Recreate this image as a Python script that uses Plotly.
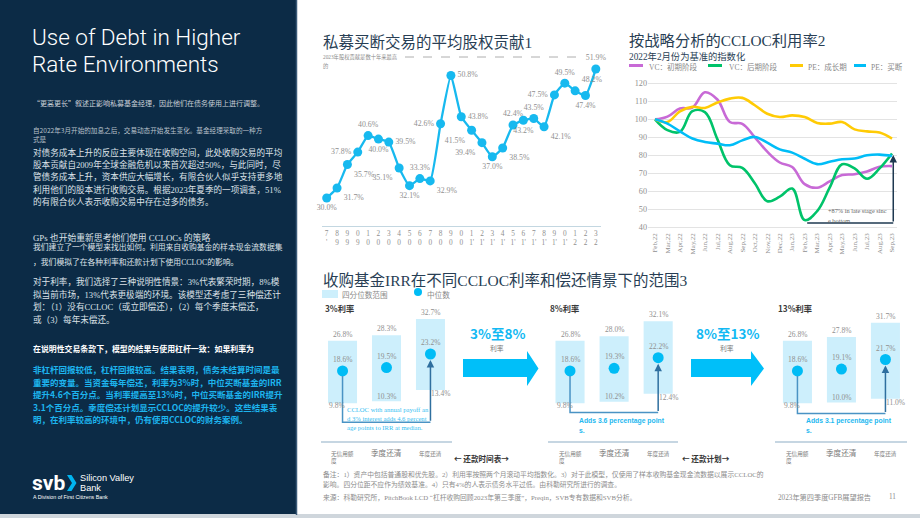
import plotly.graph_objects as go

W, H = 920, 518
def X(px): return px / W
def Y(py): return 1 - py / H

# ---------------- data ----------------
equity_years = list(range(1997, 2024))
equity_ticks = ["7<br>'", "8<br>9", "9<br>9", "0<br>9", "1<br>0", "2<br>0", "3<br>0", "4<br>0", "5<br>0",
                "6<br>0", "7<br>0", "8<br>0", "9<br>0", "0<br>0", "1<br>1'", "2<br>1'", "3<br>1'", "4<br>1'",
                "5<br>1'", "6<br>1'", "7<br>1'", "8<br>1'", "9<br>1'", "0<br>1'", "1<br>2", "2<br>2", "3<br>2"]
equity_pct = [30.0, 31.7, 35.7, 37.8, 40.6, 40.0, 39.5, 35.1, 32.1, 33.3, 32.9, 42.6, 50.8, 43.8,
              41.5, 39.4, 37.0, 38.5, 42.4, 43.2, 43.5, 42.1, 47.5, 49.5, 48.2, 47.4, 51.9]
equity_label_pos = ["bottom center", "bottom right", "bottom right", "middle left", "top center",
                    "bottom center", "middle right", "bottom left", "bottom center", "top center",
                    "bottom right", "middle left", "middle right", "middle right", "bottom left",
                    "bottom left", "bottom center", "bottom right", "top center", "bottom center",
                    "top center", "bottom right", "middle left", "top center", "top right",
                    "bottom center", "top center"]

ccloc_months = ["Feb,22", "Mar,22", "Apr,22", "May,22", "Jun,22", "Jul,22", "Aug,22", "Sep,22",
                "Oct,22", "Nov,22", "Dec,22", "Jan,23", "Feb,23", "Mar,23", "Apr,23", "May,23",
                "Jun,23", "Jul,23", "Aug,23", "Sep,23"]
vc_early = [100, 101.5, 106, 106.5, 115, 111, 98.5, 97.5, 90, 82, 76, 73.5, 64, 62, 65.5, 69, 69.5, 71, 73.6, 74]
vc_late = [100, 94, 93, 104.5, 104, 89, 74.5, 73, 64.5, 54.5, 57, 61.5, 44, 49, 62, 75, 72.7, 67, 72.7, 81]
pe_growth = [100, 98.5, 104.4, 106.9, 106.3, 109.3, 111.5, 111.9, 107.8, 103.1, 101.3, 102.2, 101.3,
             98, 97.6, 98.5, 94.4, 93.3, 92.6, 89.3]
pe_buyout = [100, 97.6, 93.3, 89.3, 87.4, 86.5, 85.6, 88.3, 90.2, 87, 83.3, 81.5, 78.1, 75.1, 76.4,
             77.8, 78.2, 80, 80.4, 79.6]
ccloc_names = ["VC：初期阶段", "VC：后期阶段", "PE：成长期", "PE：买断"]

irr_rates = ["3%利率", "8%利率", "13%利率"]
irr_schedules = ["无信用额<br>度", "季度还清", "年度还清"]
irr_q1 = [[9.8, 10.3, 13.4], [9.8, 10.2, 12.4], [9.8, 10.0, 11.0]]
irr_q3 = [[26.8, 28.3, 32.7], [26.8, 28.0, 32.1], [26.8, 27.8, 31.7]]
irr_med = [[18.6, 19.5, 23.2], [18.6, 19.3, 22.2], [18.6, 19.1, 21.7]]

# ---------------- style ----------------
NAVY = "#0c2b46"
CYAN = "#17b9ef"
TITLE = "#283e54"
GRAY = "#8a8a8a"
SANS = "Liberation Sans, Noto Sans CJK SC, sans-serif"
SERIF = "Liberation Serif, Noto Sans CJK SC, serif"
CJK = "Noto Sans CJK SC, sans-serif"
LINE_COLORS = ["#c86ad6", "#00c36a", "#ffcb05", "#00bdf7"]

fig = go.Figure()
ann = []
shapes = []

def T(x, y, s, size, color, family=SANS, weight="normal", xa="left", ya="middle", align="left"):
    ann.append(dict(x=X(x), y=Y(y), xref="paper", yref="paper", text=s, showarrow=False,
                    xanchor=xa, yanchor=ya, align=align,
                    font=dict(size=size, color=color, family=family, weight=weight)))

def rect(x0, y0, x1, y1, color, layer="below"):
    shapes.append(dict(type="rect", xref="paper", yref="paper", x0=X(x0), x1=X(x1), y0=Y(y1), y1=Y(y0),
                       fillcolor=color, line=dict(width=0), layer=layer))

def poly(pts, color, layer="above"):
    path = "M " + " L ".join(f"{X(a):.5f},{Y(b):.5f}" for a, b in pts) + " Z"
    shapes.append(dict(type="path", xref="paper", yref="paper", path=path, fillcolor=color,
                       line=dict(width=0), layer=layer))

def hline(x0, x1, y, color, width, dash="solid"):
    shapes.append(dict(type="line", xref="paper", yref="paper", x0=X(x0), x1=X(x1), y0=Y(y), y1=Y(y),
                       line=dict(color=color, width=width, dash=dash)))

# ---------------- left panel ----------------
rect(0, 0, 296, 515, NAVY)
shapes.append(dict(type="line", xref="paper", yref="paper", x0=X(296.5), x1=X(296.5), y0=Y(515), y1=1,
                   line=dict(color="#3b5a78", width=1.5)))
rect(0, 514, 920, 518, "#cfd6dc")

T(30, 37, "Use of Debt in Higher", 22.5, "white", "Roboto, Liberation Sans", 300)
T(30, 64, "Rate Environments", 22.5, "white", "Roboto, Liberation Sans", 300)
T(31, 103, "“更高更长”叙述正影响私募基金经理，因此他们在债务使用上进行调整。", 7, "#c8cfd7", CJK)
T(31, 130, "自2022年3月开始的加息之后，交易动态开始发生变化。基金经理采取的一种方", 6.6, "#b9c1ca", CJK)
T(31, 139, "式是", 6.6, "#b9c1ca", CJK)
para1 = ["对债务成本上升的反应主要体现在收购空间，此处收购交易的平均",
         "股本贡献自2009年全球金融危机以来首次超过50%，与此同时，尽",
         "管债务成本上升，资本供应大幅增长，有限合伙人似乎支持更多地",
         "利用他们的股本进行收购交易。根据2023年夏季的一项调查，51%",
         "的有限合伙人表示收购交易中存在过多的债务。"]
for i, s in enumerate(para1):
    T(31, 152 + i * 12.4, s, 8.6, "#dde2e8", SERIF)
T(31, 237, "GPs 也开始重新思考他们使用 CCLOCs 的策略", 8.8, "#dde2e8", SERIF)
T(31, 247, "我们建立了一个模型来找出如何。利用来自收购基金的样本现金流数据集", 7.8, "#dde2e8", SERIF)
T(31, 261.5, "，我们模拟了在各种利率和还款计划下使用CCLOC的影响。", 7.8, "#dde2e8", SERIF)
para2 = ["对于利率，我们选择了三种说明性情景：3%代表繁荣时期，8%模",
         "拟当前市场，13%代表更极端的环境。该模型还考虑了三种偿还计",
         "划：（1）没有CCLOC（或立即偿还），（2）每个季度末偿还，",
         "或（3）每年末偿还。"]
for i, s in enumerate(para2):
    T(31, 281.7 + i * 12.45, s, 8.6, "#dde2e8", SERIF)
T(31, 348, "在说明性交易条款下，模型的结果与使用杠杆一致：如果利率为", 7.9, "white", CJK, "bold")
para3 = ["非杠杆回报较低，杠杆回报较高。结果表明，债务未结算时间是最",
         "重要的变量。当资金每年偿还，利率为3%时，中位买断基金的IRR",
         "提升4.6个百分点。当利率提高至13%时，中位买断基金的IRR提升",
         "3.1个百分点。季度偿还计划显示CCLOC的提升较少。这些结果表",
         "明，在利率较高的环境中，仍有使用CCLOC的财务案例。"]
for i, s in enumerate(para3):
    T(31, 369.3 + i * 12.5, s, 8.5, "#1db4ee", CJK, "bold")

# SVB logo
T(30, 483, "svb", 21, "white", "Roboto, Liberation Sans", "bold")
poly([(67, 475), (71.5, 475), (76.5, 483), (71.5, 491), (67, 491), (72, 483)], "#00b4ef")
T(78, 478, "Silicon Valley", 9.2, "white", SANS)
T(78, 488, "Bank", 9.2, "white", SANS)
T(31, 497, "A Division of First Citizens Bank", 5.3, "white", SANS)

# ---------------- chart 1: equity contribution ----------------
T(321, 42, "私募买断交易的平均股权贡献1", 15.5, TITLE, SERIF)
T(321, 57, "2023年股权贡献是数十年来最高", 5.3, GRAY, SERIF)
T(321, 66, "的", 5.3, GRAY, SERIF)
hline(405, 580, 57, "#9a9a9a", 0.8, "dash")

fig.add_trace(go.Scatter(
    x=list(range(len(equity_years))), y=equity_pct, mode="lines+markers+text",
    text=[f"{v:.1f}%" for v in equity_pct], textposition=equity_label_pos,
    textfont=dict(size=7.8, color="#8f8f8f", family=SERIF),
    line=dict(color=CYAN, width=2.3, shape="spline", smoothing=0.4),
    marker=dict(size=9, color=CYAN), cliponaxis=False, xaxis="x", yaxis="y", showlegend=False))

# ---------------- chart 2: CCLOC utilization ----------------
T(627, 40.5, "按战略分析的CCLOC利用率2", 15.3, TITLE, SERIF)
T(627, 56, "2022年2月份为基准的指数化", 9.3, TITLE, SERIF)
leg_x = [(629, 643, 647), (708, 722, 727), (790, 803, 806), (854, 866, 869)]
for (a, b, c), name, col in zip(leg_x, ccloc_names, LINE_COLORS):
    hline(a, b, 65.5, col, 3)
    T(c, 66.5, name, 7.5, "#8a8a8a", SERIF)

for series, col in zip([vc_early, vc_late, pe_growth, pe_buyout], LINE_COLORS):
    fig.add_trace(go.Scatter(x=list(range(len(ccloc_months))), y=series, mode="lines",
                             line=dict(color=col, width=2.6, shape="spline", smoothing=1.1),
                             xaxis="x2", yaxis="y2", showlegend=False))

shapes.append(dict(type="line", xref="x2", yref="y2", x0=12.2, x1=19.1, y0=42.4, y1=42.4,
                   line=dict(color="#1e3850", width=1.5)))
ann.append(dict(x=19.1, y=80.2, xref="x2", yref="y2", ax=19.1, ay=42.4, axref="x2", ayref="y2",
                text="", showarrow=True, arrowhead=2, arrowsize=1, arrowwidth=1.5, arrowcolor="#1e3850"))
T(826, 211, "+87% in late stage sinc", 6.3, "#666666", SERIF)
T(826, 220, "e bottom", 6.3, "#666666", SERIF)

# ---------------- chart 3: IRR ranges ----------------
T(321, 280, "收购基金IRR在不同CCLOC利率和偿还情景下的范围3", 15.5, TITLE, SERIF)
rect(322, 290, 338, 298, "#cdeffc")
T(340, 294, "四分位数范围", 7.6, "#8a8a8a", CJK)
fig.add_trace(go.Scatter(x=[0.5], y=[0.5], mode="markers", marker=dict(size=8, color="#00bcf5"),
                         xaxis="x6", yaxis="y6", showlegend=False, hoverinfo="skip"))
T(425, 294, "中位数", 7.6, "#8a8a8a", CJK)

panel_left = [323, 548, 776]
connector_level = [4.6, 7.3, 7.0]
for p in range(3):
    xa, ya = f"x{p + 3}", f"y{p + 3}"
    T(panel_left[p], 308, irr_rates[p], 8.2, "#3a3a3a", CJK, "bold")
    q1, q3, md = irr_q1[p], irr_q3[p], irr_med[p]
    fig.add_trace(go.Bar(x=[0, 1, 2], y=[b - a for a, b in zip(q1, q3)], base=q1, width=0.66,
                         marker=dict(color="#cdeffc", line=dict(width=0)),
                         xaxis=xa, yaxis=ya, showlegend=False))
    fig.add_trace(go.Scatter(x=[0, 1, 2], y=md, mode="markers", marker=dict(size=11, color="#00bcf5"),
                             xaxis=xa, yaxis=ya, showlegend=False))
    for j in range(3):
        lab = dict(font=dict(size=7.5, color="#8f8f8f", family=SERIF), showarrow=False,
                   xref=xa, yref=ya)
        ann.append(dict(lab, x=j, y=q3[j], text=f"{q3[j]:.1f}%", yanchor="bottom", yshift=0))
        ann.append(dict(lab, x=j, y=md[j], text=f"{md[j]:.1f}%", yanchor="bottom", yshift=5))
        if j == 0:
            ann.append(dict(lab, x=j - 0.35, y=q1[j], text=f"{q1[j]:.1f}%", xanchor="left",
                            yanchor="middle", yshift=-2))
        elif j == 1:
            ann.append(dict(lab, x=j, y=q1[j], text=f"{q1[j]:.1f}%", yanchor="middle", yshift=5))
        else:
            ann.append(dict(lab, x=j + 0.33, y=q1[j], text=f"{q1[j]:.1f}%", xanchor="center",
                            yanchor="middle", yshift=-4, xshift=-4))
        small = j != 1
        ann.append(dict(x=j, y=Y(452), xref=xa, yref="paper", text=irr_schedules[j], showarrow=False,
                        xanchor="center", yanchor="top" if small else "middle", align="left",
                        yshift=4 if small else 0,
                        font=dict(size=5.6 if small else 7.6, color="#7a7a7a", family=CJK)))
    lvl = connector_level[p]
    shapes.append(dict(type="path", xref=xa, yref=ya,
                       path=f"M 0,{md[0] - 1.4} L 0,{lvl} L 2,{lvl}",
                       line=dict(color="#4a93c4", width=1.5), layer="above"))
    ann.append(dict(x=2, y=md[2], xref=xa, yref=ya, ax=2, ay=lvl, axref=xa, ayref=ya, text="",
                    showarrow=True, arrowhead=2, arrowsize=1, arrowwidth=1.5, arrowcolor="#2f6f9f",
                    standoff=6))

T(345, 409, "CCLOC with annual payoff an", 6.6, "#35c0f2", SERIF)
T(345, 418, "d 3% interest adds 4.6 percent", 6.6, "#35c0f2", SERIF)
T(345, 427, "age points to IRR at median.", 6.6, "#35c0f2", SERIF)
T(577, 421, "Adds 3.6 percentage point", 6.8, "#24b8f0", SANS, "bold")
T(577, 430, "s.", 6.8, "#24b8f0", SANS, "bold")
T(804, 421, "Adds 3.1 percentage point", 6.8, "#24b8f0", SANS, "bold")
T(804, 430, "s.", 6.8, "#24b8f0", SANS, "bold")

T(452, 458, "← 还款时间表→", 7.6, "#333333", CJK, "bold")
T(680, 458, "← 还款计划→", 7.6, "#333333", CJK, "bold")

# big arrows
ARROW = "#00bff9"
poly([(463, 359), (527, 359), (527, 351), (538.5, 368.5), (527, 386), (527, 377), (463, 377)], ARROW)
poly([(691, 359), (751, 359), (751, 351), (764, 368.5), (751, 386), (751, 377), (691, 377)], ARROW)
T(497, 332.5, "3%至8%", 13.5, "#12b9f3", CJK, "bold", xa="center")
T(497, 348, "利率", 6.8, "#777777", CJK, xa="center")
T(727, 332.5, "8%至13%", 13.5, "#12b9f3", CJK, "bold", xa="center")
T(727, 348, "利率", 6.8, "#777777", CJK, xa="center")

# footer
T(321, 474, "备注：1）资产中包括普通股和优先股。2）利用率按照两个月滚动平均指数化。3）对于此模型，仅使用了样本收购基金现金流数据以展示CCLOC的",
  6.8, "#8c8c8c", SERIF)
T(321, 484, "影响。四分位距不应作为绩效基准。4）只有4%的人表示债务水平过低。由科勒研究所进行的调查。", 6.8, "#8c8c8c", SERIF)
T(321, 497, "来源：科勒研究所，PitchBook LCD “杠杆收购回顾2023年第三季度”，Preqin，SVB专有数据和SVB分析。", 6.8, "#8c8c8c", SERIF)
T(776, 497, "2023年第四季度GFB展望报告", 7.2, "#8c8c8c", SERIF)
T(887, 497, "11", 7.2, "#8c8c8c", SERIF)

# ---------------- axes ----------------
hid = dict(visible=False)
axis_font = dict(size=7.3, color="#8f8f8f", family=SERIF)
layout = dict(
    width=W, height=H, margin=dict(l=0, r=0, t=0, b=0),
    paper_bgcolor="white", plot_bgcolor="rgba(0,0,0,0)", showlegend=False, barmode="overlay",
    font=dict(family=SANS),
    xaxis=dict(domain=[X(322), X(601)], range=[-0.454, 26.5], anchor="y",
               tickmode="array", tickvals=list(range(len(equity_years))), ticktext=equity_ticks,
               tickfont=axis_font, showline=True, linecolor="#c3d7e1", linewidth=1,
               showgrid=False, zeroline=False, ticks=""),
    yaxis=dict(domain=[Y(226), Y(50)], range=[25.25, 55.13], anchor="x", **hid),
    xaxis2=dict(domain=[X(648), X(897)], range=[-0.56, 19.4], anchor="y2",
                tickmode="array", tickvals=list(range(len(ccloc_months))), ticktext=ccloc_months,
                tickangle=-90, tickfont=dict(size=7, color="#8f8f8f", family=SERIF),
                showgrid=False, showline=False, zeroline=False, ticks=""),
    yaxis2=dict(domain=[Y(230.9), Y(77.9)], range=[38, 123], anchor="x2",
                tickmode="array", tickvals=[40, 50, 60, 70, 80, 90, 100, 110, 120],
                tickfont=dict(size=8.2, color="#8f8f8f", family=SERIF),
                showgrid=True, gridcolor="#e3e3e3", gridwidth=1, zeroline=False, ticks=""),
    xaxis6=dict(domain=[X(413), X(423)], range=[0, 1], anchor="y6", **hid),
    yaxis6=dict(domain=[Y(297), Y(287)], range=[0, 1], anchor="x6", **hid),
)
panel_dom = [(321, 452, -0.49, 2.49), (548, 678, -0.5, 2.45), (775, 907, -0.51, 2.49)]
for p, (a, b, r0, r1) in enumerate(panel_dom):
    layout[f"xaxis{p + 3}"] = dict(domain=[X(a), X(b)], range=[r0, r1], anchor=f"y{p + 3}",
                                   showticklabels=False, showline=True, linecolor="#c6d6e2",
                                   linewidth=1.5, showgrid=False, zeroline=False, ticks="")
    layout[f"yaxis{p + 3}"] = dict(domain=[Y(441), Y(300)], range=[-0.49, 37.9], anchor=f"x{p + 3}", **hid)

layout["annotations"] = ann
layout["shapes"] = shapes
fig.update_layout(**layout)
fig.write_html("out.html")
